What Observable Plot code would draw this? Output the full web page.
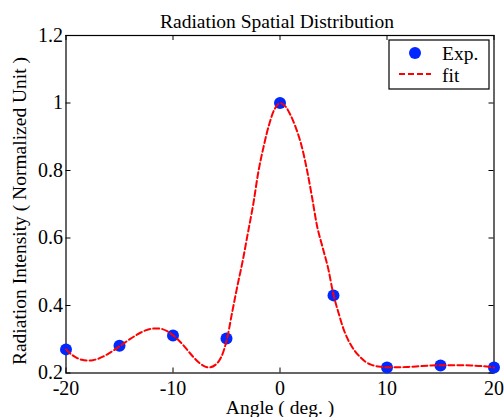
<!DOCTYPE html>
<html>
<head>
<meta charset="utf-8">
<script src="https://cdn.jsdelivr.net/npm/d3@7"></script>
<script src="https://cdn.jsdelivr.net/npm/@observablehq/plot@0.6"></script>
<style>
  html, body { margin: 0; padding: 0; background: #fff; }
  #chart { width: 504px; height: 417px; }
</style>
</head>
<body>
<div id="chart"></div>
<script>
// Experimental points
const expAngle = [-20, -15, -10, -5, 0, 5, 10, 15, 20];
const expValue = [0.270, 0.281, 0.311, 0.302, 1.000, 0.430, 0.216, 0.222, 0.216];

// Fit curve
const fitAngle = [-20, -19.5, -19, -18.5, -18, -17.5, -17, -16.5, -16, -15.5, -15, -14.5, -14, -13.5, -13, -12.5, -12, -11.5, -11, -10.5, -10, -9.5, -9, -8.5, -8, -7.5, -7, -6.5, -6, -5.5, -5, -4.5, -4, -3.5, -3, -2.5, -2, -1.5, -1, -0.5, 0, 0.5, 1, 1.5, 2, 2.5, 3, 3.5, 4, 4.5, 5, 5.5, 6, 6.5, 7, 7.5, 8, 8.5, 9, 9.5, 10, 11, 12, 13, 14, 15, 16, 17, 18, 19, 20];
const fitValue = [0.270, 0.255, 0.245, 0.239, 0.237, 0.238, 0.242, 0.249, 0.258, 0.268, 0.279, 0.290, 0.301, 0.311, 0.320, 0.327, 0.331, 0.332, 0.330, 0.323, 0.312, 0.298, 0.281, 0.262, 0.244, 0.229, 0.219, 0.217, 0.225, 0.247, 0.295, 0.375, 0.455, 0.530, 0.615, 0.700, 0.800, 0.875, 0.938, 0.982, 1.000, 0.990, 0.963, 0.925, 0.875, 0.805, 0.720, 0.630, 0.570, 0.510, 0.432, 0.375, 0.325, 0.290, 0.265, 0.247, 0.233, 0.225, 0.220, 0.218, 0.217, 0.217, 0.218, 0.220, 0.222, 0.223, 0.223, 0.223, 0.222, 0.220, 0.216];

// Ticks and texts
const xTicks = [-20, -10, 0, 10, 20];
const yTicks = [0.2, 0.4, 0.6, 0.8, 1.0, 1.2];
const titleText = "Radiation Spatial Distribution";
const xLabel = "Angle ( deg. )";
const yLabel = "Radiation Intensity ( Normalized Unit )";
const legendLabels = ["Exp.", "fit"];

const W = 504, H = 417;
const mL = 65.5, mR = 10.5, mT = 35, mB = 44.5;
const innerW = W - mL - mR, innerH = H - mT - mB;
const font = "'Liberation Serif', 'Times New Roman', serif";
const dotColor = "#0028ff";

const expData = expAngle.map((a, i) => ({a, v: expValue[i]}));
const fitData = fitAngle.map((a, i) => ({a, v: fitValue[i]}));

const svg = Plot.plot({
  width: W, height: H,
  marginLeft: mL, marginRight: mR, marginTop: mT, marginBottom: mB,
  style: {fontFamily: font, fontSize: "19.5px", background: "#fff", color: "#000"},
  x: {domain: [-20, 20], label: null},
  y: {domain: [0.2, 1.2], label: null},
  marks: [
    Plot.frame({stroke: "#000", strokeWidth: 1.2}),
    Plot.tickX(xTicks, {x: d => d, insetTop: innerH - 5, stroke: "#000"}),
    Plot.tickX(xTicks, {x: d => d, insetBottom: innerH - 5, stroke: "#000"}),
    Plot.tickY(yTicks, {y: d => d, insetRight: innerW - 5, stroke: "#000"}),
    Plot.tickY(yTicks, {y: d => d, insetLeft: innerW - 5, stroke: "#000"}),
    Plot.axisX(xTicks, {tickSize: 0, tickPadding: 8, fontSize: 20, tickFormat: d => String(d), fill: "#000"}),
    Plot.axisY(yTicks, {tickSize: 0, tickPadding: 3, fontSize: 20, tickFormat: d => String(+d.toFixed(1)), fill: "#000"}),
    Plot.dot(expData, {x: "a", y: "v", r: 6, fill: dotColor, stroke: "none"}),
    Plot.line(fitData, {x: "a", y: "v", stroke: "#ff0000", strokeWidth: 2, strokeDasharray: "6,3", curve: "catmull-rom"})
  ]
});

const s = d3.select(svg);
s.append("text").attr("x", 277).attr("y", 28).attr("text-anchor", "middle")
  .attr("fill", "#000").text(titleText);
s.append("text").attr("x", 280).attr("y", 414).attr("text-anchor", "middle")
  .attr("fill", "#000").text(xLabel);
s.append("text").attr("transform", "translate(26,211) rotate(-90)").attr("text-anchor", "middle")
  .attr("fill", "#000").text(yLabel);

// Legend
const lg = s.append("g");
lg.append("rect").attr("x", 389).attr("y", 40).attr("width", 100).attr("height", 49)
  .attr("fill", "#fff").attr("stroke", "#000").attr("stroke-width", 1.2);
lg.append("circle").attr("cx", 415).attr("cy", 53).attr("r", 6).attr("fill", dotColor);
lg.append("line").attr("x1", 399).attr("x2", 431).attr("y1", 74).attr("y2", 74)
  .attr("stroke", "#ff0000").attr("stroke-width", 2).attr("stroke-dasharray", "6,3");
lg.append("text").attr("x", 442).attr("y", 59.5).attr("text-anchor", "start").attr("fill", "#000").text(legendLabels[0]);
lg.append("text").attr("x", 442).attr("y", 81.5).attr("text-anchor", "start").attr("fill", "#000").text(legendLabels[1]);

document.getElementById("chart").appendChild(svg);
</script>
</body>
</html>
